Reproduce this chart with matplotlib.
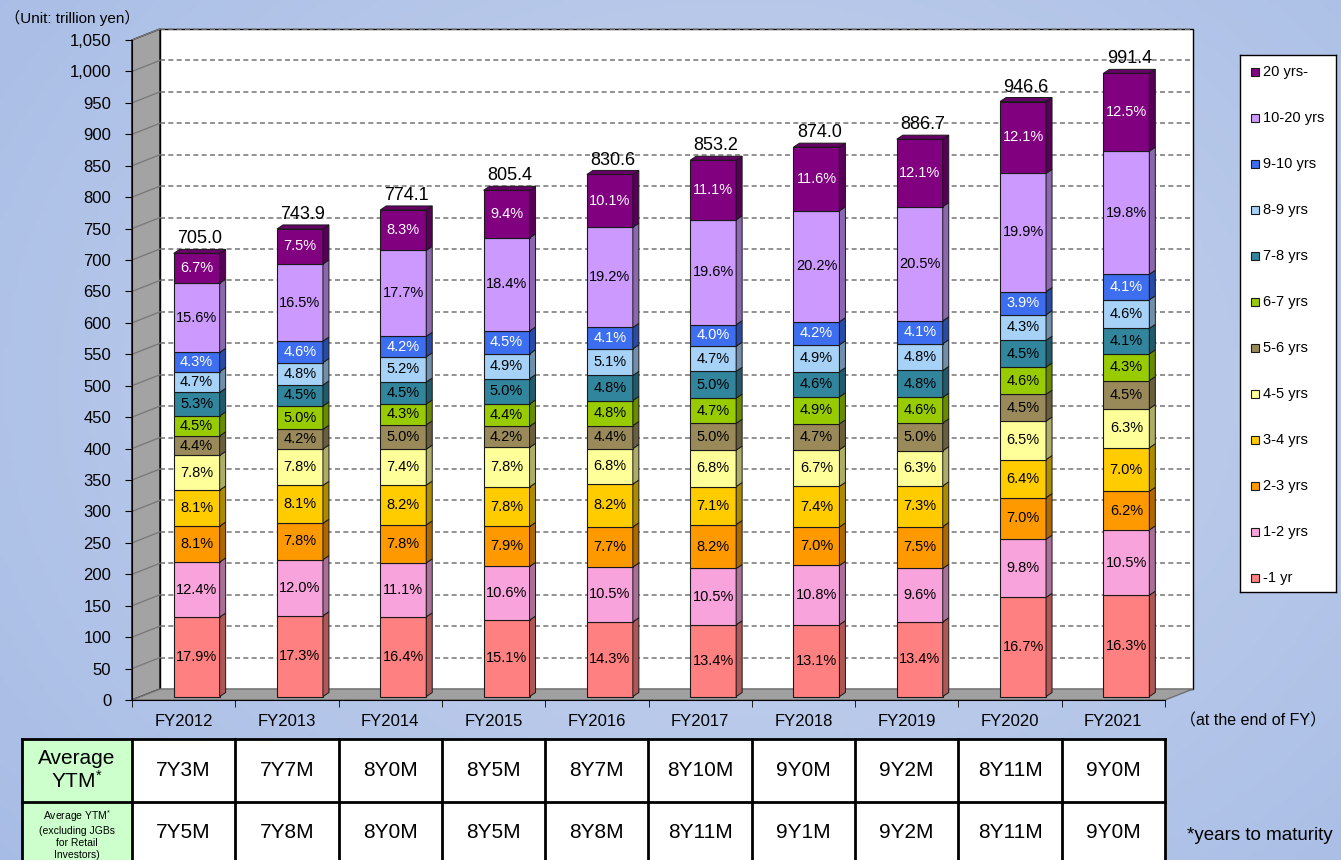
import numpy as np
import matplotlib.pyplot as plt
from matplotlib.patches import Polygon, Rectangle
import matplotlib.colors as mcolors

plt.rcParams['font.family'] = ['Liberation Sans', 'Noto Sans CJK JP', 'DejaVu Sans']
plt.rcParams['mathtext.fontset'] = 'custom'
plt.rcParams['mathtext.rm'] = 'Liberation Sans'
plt.rcParams['mathtext.it'] = 'Liberation Sans'

# data
years = ['FY2012', 'FY2013', 'FY2014', 'FY2015', 'FY2016',
         'FY2017', 'FY2018', 'FY2019', 'FY2020', 'FY2021']
totals = [705.0, 743.9, 774.1, 805.4, 830.6, 853.2, 874.0, 886.7, 946.6, 991.4]

buckets = ['-1 yr', '1-2 yrs', '2-3 yrs', '3-4 yrs', '4-5 yrs', '5-6 yrs',
           '6-7 yrs', '7-8 yrs', '8-9 yrs', '9-10 yrs', '10-20 yrs', '20 yrs-']
lt1 = [17.9, 17.3, 16.4, 15.1, 14.3, 13.4, 13.1, 13.4, 16.7, 16.3]
y1_2 = [12.4, 12.0, 11.1, 10.6, 10.5, 10.5, 10.8, 9.6, 9.8, 10.5]
y2_3 = [8.1, 7.8, 7.8, 7.9, 7.7, 8.2, 7.0, 7.5, 7.0, 6.2]
y3_4 = [8.1, 8.1, 8.2, 7.8, 8.2, 7.1, 7.4, 7.3, 6.4, 7.0]
y4_5 = [7.8, 7.8, 7.4, 7.8, 6.8, 6.8, 6.7, 6.3, 6.5, 6.3]
y5_6 = [4.4, 4.2, 5.0, 4.2, 4.4, 5.0, 4.7, 5.0, 4.5, 4.5]
y6_7 = [4.5, 5.0, 4.3, 4.4, 4.8, 4.7, 4.9, 4.6, 4.6, 4.3]
y7_8 = [5.3, 4.5, 4.5, 5.0, 4.8, 5.0, 4.6, 4.8, 4.5, 4.1]
y8_9 = [4.7, 4.8, 5.2, 4.9, 5.1, 4.7, 4.9, 4.8, 4.3, 4.6]
y9_10 = [4.3, 4.6, 4.2, 4.5, 4.1, 4.0, 4.2, 4.1, 3.9, 4.1]
y10_20 = [15.6, 16.5, 17.7, 18.4, 19.2, 19.6, 20.2, 20.5, 19.9, 19.8]
y20 = [6.7, 7.5, 8.3, 9.4, 10.1, 11.1, 11.6, 12.1, 12.1, 12.5]

ytm = ['7Y3M', '7Y7M', '8Y0M', '8Y5M', '8Y7M', '8Y10M', '9Y0M', '9Y2M', '8Y11M', '9Y0M']
ytm_ex = ['7Y5M', '7Y8M', '8Y0M', '8Y5M', '8Y8M', '8Y11M', '9Y1M', '9Y2M', '8Y11M', '9Y0M']

shares = [lt1, y1_2, y2_3, y3_4, y4_5, y5_6, y6_7, y7_8, y8_9, y9_10, y10_20, y20]
colors = ['#ff8080', '#f9a3dc', '#ff9900', '#ffcc00', '#ffff99', '#9a8a5a',
          '#99cc00', '#31859c', '#a6d2f8', '#3d6ef0', '#cc99ff', '#800080']
white_txt = ['9-10 yrs', '20 yrs-']

W, H = 1341, 860
fig = plt.figure(figsize=(W / 100, H / 100), dpi=100)

# background gradient
bg = fig.add_axes([0, 0, 1, 1], zorder=-10)
yy, xx = np.mgrid[0:1:200j, 0:1:300j]
d = np.sqrt(((xx - 0.55) / 0.75) ** 2 + ((yy - 0.45) / 0.9) ** 2)
d = np.clip(d, 0, 1)
c_in = np.array([200, 213, 238]) / 255
c_out = np.array([166, 187, 229]) / 255
img = c_in[None, None, :] * (1 - d[..., None]) + c_out[None, None, :] * d[..., None]
bg.imshow(img, extent=[0, 1, 0, 1], aspect='auto')
bg.axis('off')

# main axes = front plane of the 3D chart
ax = fig.add_axes([132 / W, 1 - 700 / H, 1033 / W, 660 / H])
ax.set_xlim(-0.5, 9.5)
ax.set_ylim(0, 1050)
ax.patch.set_visible(False)

DX, DY = 0.271, 17.5     # wall depth
SX, SY = 0.126, 5.5      # bar offset
BW = 0.445               # bar width
BX, BY = 0.058, 6.4      # bar depth

ax.add_patch(Rectangle((-0.5 + DX, DY), 10, 1050, facecolor='white',
                       edgecolor='black', lw=1, zorder=0, clip_on=False))
for v in range(50, 1051, 50):
    ax.plot([-0.5 + DX, 9.5 + DX], [v + DY, v + DY], ls=(0, (3, 2)),
            color='#7f7f7f', lw=1.2, zorder=1, clip_on=False)
ax.add_patch(Polygon([(-0.5, 0), (-0.5 + DX, DY), (-0.5 + DX, 1050 + DY), (-0.5, 1050)],
                     facecolor='#a3a3a3', edgecolor='black', lw=1, zorder=1, clip_on=False))
for v in range(50, 1051, 50):
    ax.plot([-0.5, -0.5 + DX], [v, v + DY], color='#7a7a7a', lw=1, zorder=1.5, clip_on=False)
ax.add_patch(Polygon([(-0.5, 0), (9.5, 0), (9.5 + DX, DY), (-0.5 + DX, DY)],
                     facecolor='#a0a0a0', edgecolor='#707070', lw=1, zorder=1, clip_on=False))

x = np.arange(len(years))
tot = np.array(totals)
sums = np.sum(shares, axis=0)
bottom = np.zeros(len(years))
for name, s, c in zip(buckets, shares, colors):
    h = tot * np.array(s) / sums
    ax.bar(x + SX, h, width=BW, bottom=bottom + SY, color=c,
           edgecolor='#1a1a1a', lw=0.8, zorder=3)
    side = tuple(np.array(mcolors.to_rgb(c)) * 0.68)
    for i in range(len(years)):
        xr = x[i] + SX + BW / 2
        b0 = bottom[i] + SY
        t0 = b0 + h[i]
        ax.add_patch(Polygon([(xr, b0), (xr + BX, b0 + BY), (xr + BX, t0 + BY), (xr, t0)],
                             facecolor=side, edgecolor='#1a1a1a', lw=0.7, zorder=3))
        ax.text(x[i] + SX, b0 + h[i] / 2, f'{s[i]:.1f}%', ha='center', va='center',
                fontsize=10.5, color='white' if name in white_txt else 'black', zorder=5)
    bottom += h

top_c = tuple(np.array(mcolors.to_rgb(colors[-1])) * 0.8)
for i in range(len(years)):
    xl = x[i] + SX - BW / 2
    xr = x[i] + SX + BW / 2
    t0 = tot[i] + SY
    ax.add_patch(Polygon([(xl, t0), (xl + BX, t0 + BY), (xr + BX, t0 + BY), (xr, t0)],
                         facecolor=top_c, edgecolor='#1a1a1a', lw=0.7, zorder=3))
    ax.text(x[i] + SX + BX / 2, t0 + BY + 3, f'{totals[i]:.1f}', ha='center', va='bottom',
            fontsize=13, zorder=5)

for sp in ['top', 'right']:
    ax.spines[sp].set_visible(False)
ax.spines['left'].set_zorder(4)
ax.spines['bottom'].set_zorder(4)
ax.set_yticks(range(0, 1051, 50))
ax.set_yticklabels([f'{v:,}' for v in range(0, 1051, 50)], fontsize=12)
ax.tick_params(axis='y', direction='out', length=5, pad=10)
ax.set_xticks(x)
ax.set_xticklabels(years, fontsize=12)
ax.set_xticks(np.arange(-0.5, 9.6, 1), minor=True)
ax.tick_params(axis='x', which='major', length=0, pad=10)
ax.tick_params(axis='x', which='minor', direction='out', length=5)

fig.text(5 / W, 1 - 18 / H, '（Unit: trillion yen）', fontsize=11, va='center', ha='left')
fig.text(1180 / W, 1 - 721 / H, '（at the end of FY）', fontsize=11.5, va='center', ha='left')
fig.text(1187 / W, 1 - 836 / H, '*years to maturity', fontsize=13.5, va='center', ha='left')

# legend box, drawn as its own small axes (top entry = 20 yrs-)
lax = fig.add_axes([1240 / W, 1 - 592 / H, 96 / W, 537 / H])
lax.set_xlim(0, 96)
lax.set_ylim(537, 0)
lax.set_xticks([])
lax.set_yticks([])
for sp in lax.spines.values():
    sp.set_linewidth(1)
    sp.set_color('black')
for k, (name, c) in enumerate(zip(buckets[::-1], colors[::-1])):
    yk = 17 + 46 * k
    lax.add_patch(Rectangle((11, yk - 4), 8, 8, facecolor=c, edgecolor='#1a1a1a', lw=0.8))
    lax.text(23, yk, name, fontsize=10.5, va='center', ha='left')

# table below the chart
tab = fig.add_axes([22 / W, 1 - 864 / H, 1143 / W, 125 / H])
tab.set_xlim(-0.5 - 110 / 103.3, 9.5)
tab.set_ylim(2, 0)
tab.axis('off')
x0 = -0.5 - 110 / 103.3
tab.add_patch(Rectangle((x0, 0), -0.5 - x0, 2, facecolor='#ccffcc', edgecolor='none'))
tab.add_patch(Rectangle((-0.5, 0), 10, 2, facecolor='white', edgecolor='none'))
for xv in [x0] + list(np.arange(-0.5, 9.6, 1)):
    tab.plot([xv, xv], [0, 2], color='black', lw=2, clip_on=False)
for yv in [0, 1]:
    tab.plot([x0, 9.5], [yv, yv], color='black', lw=2, clip_on=False)
tab.text((x0 - 0.5) / 2, 0.5, 'Average\nYTM$^{*}$', ha='center', va='center',
         fontsize=15, linespacing=1.1)
tab.text((x0 - 0.5) / 2, 1.52, 'Average YTM$^{*}$\n(excluding JGBs\nfor Retail\nInvestors)',
         ha='center', va='center', fontsize=7.5, linespacing=1.25)
for i in range(len(years)):
    tab.text(x[i], 0.5, ytm[i], ha='center', va='center', fontsize=15)
    tab.text(x[i], 1.5, ytm_ex[i], ha='center', va='center', fontsize=15)

fig.savefig('out.png', dpi=100)
